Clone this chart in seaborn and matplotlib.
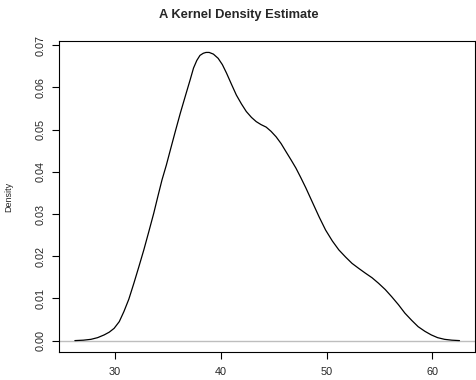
import matplotlib
matplotlib.use("Agg")
import matplotlib.pyplot as plt
import seaborn as sns
import pandas as pd

# density curve
x_vals = [26.2, 27.0, 27.72, 28.35, 28.97, 29.45, 29.91, 30.4, 30.84, 31.3,
          31.78, 32.25, 32.72, 33.2, 33.66, 34.05, 34.44, 34.85, 35.23, 35.7,
          36.17, 36.65, 37.1, 37.42, 37.73, 38.03, 38.34, 38.6, 38.9, 39.3,
          39.75, 40.15, 40.54, 41.0, 41.47, 41.95, 42.41, 42.9, 43.35, 43.8,
          44.29, 44.75, 45.23, 45.7, 46.16, 46.65, 47.1, 47.55, 48.04, 48.66,
          49.3, 49.91, 50.55, 51.16, 51.8, 52.41, 53.05, 53.66, 54.3, 54.91,
          55.55, 56.16, 56.8, 57.41, 58.05, 58.66, 59.3, 59.9, 60.5, 61.16,
          61.85, 62.57]
density = [0.0, 0.0001, 0.0003, 0.0007, 0.00135, 0.002, 0.0029, 0.0045, 0.0069,
           0.0098, 0.0136, 0.0175, 0.0215, 0.0259, 0.0302, 0.0342, 0.0381,
           0.0416, 0.0452, 0.0496, 0.0539, 0.058, 0.0618, 0.0646, 0.0664,
           0.0676, 0.0681, 0.0683, 0.0683, 0.0679, 0.0669, 0.0654, 0.0634,
           0.0608, 0.0582, 0.0561, 0.0543, 0.0529, 0.0519, 0.0512, 0.0506,
           0.0496, 0.0483, 0.0467, 0.0448, 0.0428, 0.0409, 0.0387, 0.0362,
           0.0328, 0.0293, 0.0262, 0.0236, 0.0215, 0.0198, 0.0183, 0.0171,
           0.016, 0.0149, 0.0136, 0.0121, 0.0104, 0.0085, 0.0065, 0.0048,
           0.0033, 0.0022, 0.00135, 0.0007, 0.0003, 0.0001, 0.0]
x_ticks = [30, 40, 50, 60]
y_ticks = [0.00, 0.01, 0.02, 0.03, 0.04, 0.05, 0.06, 0.07]

df = pd.DataFrame({"x": x_vals, "Density": density})

sns.set_style("white")
plt.rcParams["font.family"] = ["Liberation Sans", "DejaVu Sans"]

fig = plt.figure(figsize=(4.77, 3.8), dpi=100)
ax = fig.add_axes([0.1237, 0.0737, 0.8713, 0.8183])

ax.axhline(0, color="#bebebe", lw=1.0, zorder=1)
sns.lineplot(data=df, x="x", y="Density", color="black", lw=0.9, ax=ax, zorder=2)

ax.set_xlim(24.7, 64.0)
ax.set_ylim(-0.0027, 0.071)
ax.set_xticks(x_ticks)
ax.set_xticklabels([str(t) for t in x_ticks])
ax.set_yticks(y_ticks)
ax.set_yticklabels([f"{t:.2f}" for t in y_ticks], rotation=90, va="center")
ax.tick_params(axis="both", labelsize=7.8, length=5, width=0.8, direction="out",
               color="black", bottom=True, left=True)
ax.tick_params(axis="x", pad=5.5)
ax.tick_params(axis="y", pad=4.5)

for s in ax.spines.values():
    s.set_visible(True)
    s.set_color("black")
    s.set_linewidth(0.8)

ax.set_xlabel("")
ax.set_ylabel("Density", fontsize=6.5)
ax.yaxis.set_label_coords(-0.109, 0.5)
fig.text(0.5, 0.9605, "A Kernel Density Estimate", fontsize=9.3,
         fontweight="bold", ha="center", va="center")

fig.savefig("out.png", dpi=100)
